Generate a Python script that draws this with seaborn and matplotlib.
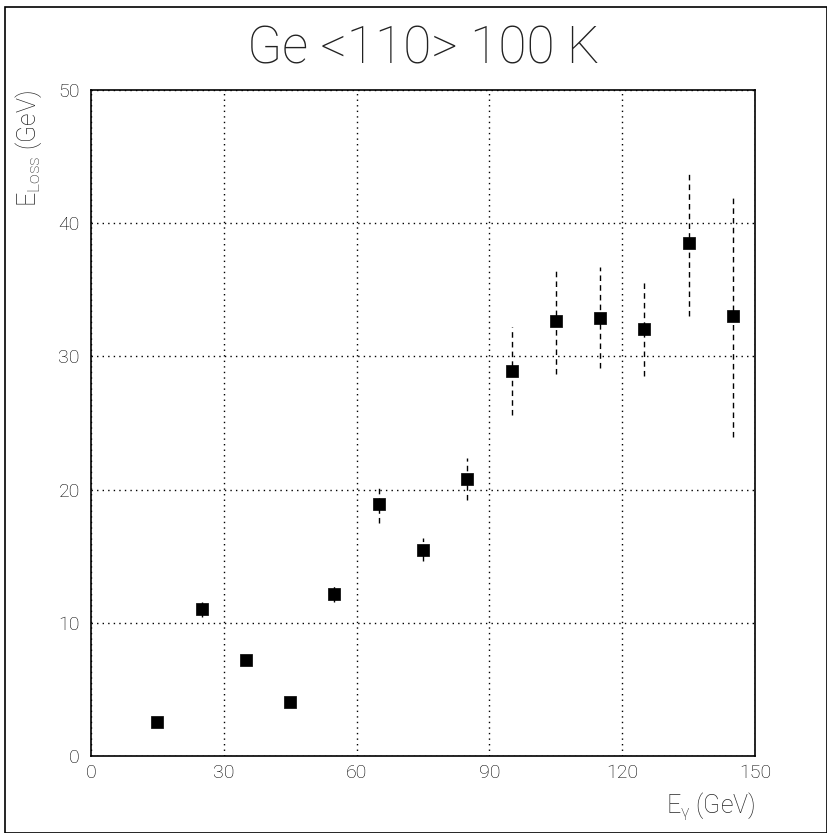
import matplotlib
matplotlib.use("Agg")
import matplotlib.pyplot as plt
import seaborn as sns
import pandas as pd
from matplotlib.ticker import MultipleLocator
from matplotlib.patches import Rectangle

energy = [15, 25, 35, 45, 55, 65, 75, 85, 95, 105, 115, 125, 135, 145]
eloss = [2.55, 11.0, 7.2, 4.05, 12.2, 18.9, 15.5, 20.8, 28.9, 32.65, 32.9, 32.05, 38.5, 33.05]
eloss_err = [0.3, 0.6, 0.4, 0.3, 0.6, 1.4, 0.85, 1.6, 3.3, 3.95, 3.8, 3.55, 5.45, 9.1]
title = "Ge <110> 100 K"
x_ticks = [0, 30, 60, 90, 120, 150]
y_ticks = [0, 10, 20, 30, 40, 50]

sns.set_style("white")
plt.rcParams["font.family"] = ["Roboto", "DejaVu Sans"]
plt.rcParams["font.weight"] = "light"
plt.rcParams["mathtext.fontset"] = "custom"
plt.rcParams["mathtext.rm"] = "Roboto:light"
plt.rcParams["mathtext.it"] = "Roboto:light"

df = pd.DataFrame({"E": energy, "L": eloss, "err": eloss_err})
df["lo"] = df["L"] - df["err"]
df["hi"] = df["L"] + df["err"]

fig = plt.figure(figsize=(8.27, 8.33), dpi=100)
ax = fig.add_axes([0.110, 0.0924, 0.803, 0.7996])

ax.vlines(df["E"], df["lo"], df["hi"], colors="black", linestyles=(0, (4, 3)),
          linewidth=1.0, zorder=2)
sns.scatterplot(data=df, x="E", y="L", marker="s", s=70, color="black",
                edgecolor="black", linewidth=0.5, ax=ax, zorder=3)

ax.set_xlim(0, 150)
ax.set_ylim(0, 50)
ax.set_xticks(x_ticks)
ax.set_yticks(y_ticks)
ax.yaxis.set_minor_locator(MultipleLocator(2))
ax.tick_params(axis="both", which="major", direction="in", labelsize=14,
               length=10, width=1, colors="black", labelcolor="black")
ax.tick_params(axis="y", which="minor", direction="in", length=6, width=1)
ax.tick_params(axis="y", which="major", pad=8)
ax.tick_params(axis="x", which="major", pad=6)
for lab in ax.get_xticklabels() + ax.get_yticklabels():
    lab.set_fontweight("light")
ax.grid(True, which="major", color="black", linestyle=(0, (1, 3)), linewidth=1.0)
for s in ax.spines.values():
    s.set_color("black")
    s.set_linewidth(1.2)
    s.set_visible(True)

ax.set_xlabel(r"E$_{\gamma}$ (GeV)", fontsize=18, loc="right", labelpad=6,
              fontweight="light")
ax.set_ylabel(r"E$_{\mathrm{Loss}}$ (GeV)", fontsize=18, loc="top", labelpad=10,
              fontweight="light")
fig.text(0.512, 0.94, title, ha="center", va="center", fontsize=37,
         fontweight="light", color="#222222")

fig.patches.append(Rectangle((0.006, 0.0), 0.994, 0.992, transform=fig.transFigure,
                             fill=False, edgecolor="black", linewidth=1.2))

fig.savefig("out.png", dpi=100)
